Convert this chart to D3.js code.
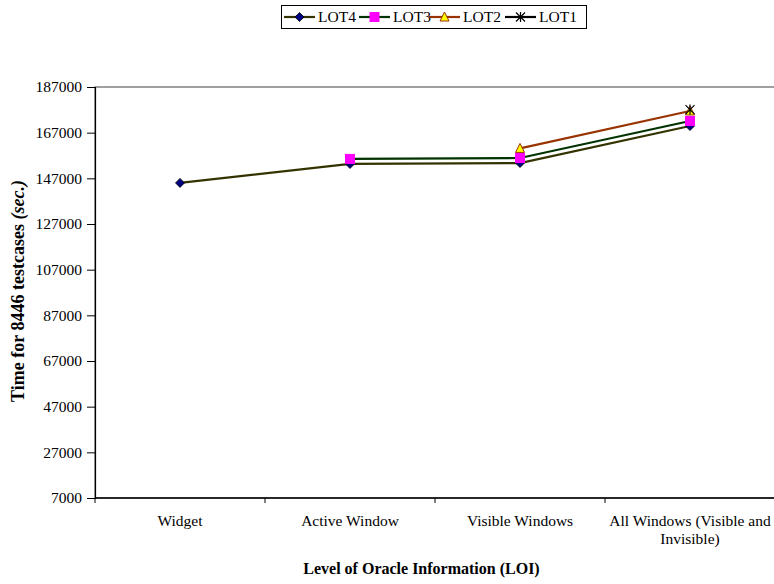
<!DOCTYPE html>
<html>
<head>
<meta charset="utf-8">
<script src="https://cdn.jsdelivr.net/npm/d3@7"></script>
<style>
  html, body { margin: 0; padding: 0; background: #fff; }
  svg text { font-family: 'Liberation Serif'; }
</style>
</head>
<body>
<div id="chart"></div>
<script>
// ---- Data ----
const categories = ["Widget", "Active Window", "Visible Windows", "All Windows (Visible and Invisible)"];
const lot4 = [145000, 153300, 153700, 169900];
const lot3 = [null, 155500, 155900, 172100];
const lot2 = [null, null, 160100, 176500];
const lot1 = [null, null, null, 177100];
const seriesNames = ["LOT4", "LOT3", "LOT2", "LOT1"];
const yTicks = [7000, 27000, 47000, 67000, 87000, 107000, 127000, 147000, 167000, 187000];
const xTitle = "Level of Oracle Information (LOI)";
const yTitleMain = "Time for 8446 testcases ";
const yTitleItalic = "(sec.)";

const seriesValues = [lot4, lot3, lot2, lot1];
const styles = [
  { line: "#333300", marker: "diamond", fill: "#000080", stroke: "#000000" },
  { line: "#003300", marker: "square", fill: "#FF00FF", stroke: "#FF00FF" },
  { line: "#993300", marker: "triangle", fill: "#FFFF00", stroke: "#993300" },
  { line: "#000000", marker: "star", fill: "none", stroke: "#000000" }
];
const FONT = "Liberation Serif";

const W = 774, H = 584;
const plot = { left: 95, right: 776, top: 87, bottom: 498 };

const svg = d3.select("#chart").append("svg").attr("width", W).attr("height", H);

const x = d3.scaleBand().domain(categories).range([plot.left, plot.right - 1]).padding(0);
const y = d3.scaleLinear().domain([7000, 187000]).range([plot.bottom, plot.top]);

// plot area border (gray)
svg.append("rect")
  .attr("x", plot.left).attr("y", plot.top)
  .attr("width", plot.right - plot.left).attr("height", plot.bottom - plot.top)
  .attr("fill", "none").attr("stroke", "#808080").attr("stroke-width", 1.5);

// Y axis
const yAxis = d3.axisLeft(y).tickValues(yTicks).tickSize(8).tickPadding(5).tickFormat(d3.format("d"));
const gy = svg.append("g").attr("transform", `translate(${plot.left},0)`).call(yAxis)
  .attr("font-family", FONT);
gy.select(".domain").attr("stroke", "#000").attr("stroke-width", 1.2);
gy.selectAll(".tick line").attr("stroke", "#000");
gy.selectAll(".tick text").attr("font-size", 15.5).attr("fill", "#000").attr("font-family", FONT);

// X axis with ticks at category boundaries
const gx = svg.append("g").attr("transform", `translate(0,${plot.bottom})`);
gx.append("line").attr("x1", plot.left).attr("x2", plot.right).attr("y1", 0).attr("y2", 0)
  .attr("stroke", "#000").attr("stroke-width", 1.5);
const boundaries = categories.map(c => x(c));
gx.selectAll("line.tk").data(boundaries).join("line").attr("class", "tk")
  .attr("x1", d => d).attr("x2", d => d).attr("y1", 0).attr("y2", 5)
  .attr("stroke", "#000");

// category labels (wrapped)
const wrapped = [["Widget"], ["Active Window"], ["Visible Windows"], ["All Windows (Visible and", "Invisible)"]];
categories.forEach((c, i) => {
  const cx = x(c) + x.bandwidth() / 2;
  const t = svg.append("text")
    .attr("x", cx).attr("y", 526)
    .attr("text-anchor", "middle")
    .attr("font-family", FONT)
    .attr("font-size", 15.5)
    .attr("fill", "#000");
  wrapped[i].forEach((ln, j) => {
    t.append("tspan").attr("x", cx).attr("dy", j === 0 ? 0 : 18).text(ln);
  });
});

// axis titles
svg.append("text")
  .attr("x", (plot.left + plot.right) / 2 - 14)
  .attr("y", 574)
  .attr("text-anchor", "middle")
  .attr("font-family", FONT)
  .attr("font-size", 16)
  .attr("font-weight", "bold")
  .text(xTitle);

const yt = svg.append("text")
  .attr("transform", `translate(24,291) rotate(-90)`)
  .attr("text-anchor", "middle")
  .attr("font-family", FONT)
  .attr("font-size", 18)
  .attr("font-weight", "bold");
yt.append("tspan").text(yTitleMain);
yt.append("tspan").attr("font-style", "italic").text(yTitleItalic);

// markers
function drawMarker(g, type, cx, cy, st) {
  if (type === "diamond") {
    g.append("path").attr("d", `M${cx},${cy - 4.5}L${cx + 4.5},${cy}L${cx},${cy + 4.5}L${cx - 4.5},${cy}Z`)
      .attr("fill", st.fill).attr("stroke", st.stroke).attr("stroke-width", 0.8);
  } else if (type === "square") {
    g.append("rect").attr("x", cx - 4.5).attr("y", cy - 4.5).attr("width", 9).attr("height", 9)
      .attr("fill", st.fill).attr("stroke", st.stroke);
  } else if (type === "triangle") {
    g.append("path").attr("d", `M${cx},${cy - 5}L${cx + 4.5},${cy + 4}L${cx - 4.5},${cy + 4}Z`)
      .attr("fill", st.fill).attr("stroke", st.stroke).attr("stroke-width", 1);
  } else if (type === "star") {
    const r = 4.5;
    g.append("path").attr("d",
      `M${cx - r},${cy - r}L${cx + r},${cy + r}M${cx - r},${cy + r}L${cx + r},${cy - r}M${cx},${cy - r - 0.5}L${cx},${cy + r + 0.5}`)
      .attr("stroke", st.stroke).attr("stroke-width", 1.2).attr("fill", "none");
  }
}

// lines
const line = d3.line().defined(d => d.v != null).x(d => x(d.c) + x.bandwidth() / 2).y(d => y(d.v));
const linesG = svg.append("g");
const marksG = svg.append("g");
seriesValues.forEach((vals, si) => {
  const pts = vals.map((v, i) => ({ c: categories[i], v }));
  linesG.append("path").datum(pts).attr("d", line)
    .attr("fill", "none").attr("stroke", styles[si].line).attr("stroke-width", 2.2);
});
seriesValues.forEach((vals, si) => {
  vals.forEach((v, i) => {
    if (v == null) return;
    drawMarker(marksG, styles[si].marker, x(categories[i]) + x.bandwidth() / 2, y(v), styles[si]);
  });
});

// legend
const lg = svg.append("g");
lg.append("rect").attr("x", 281.5).attr("y", 5.5).attr("width", 305).attr("height", 23)
  .attr("fill", "#fff").attr("stroke", "#000").attr("stroke-width", 1);
const legendX = [284, 359, 429, 505];
seriesNames.forEach((n, i) => {
  const lx = legendX[i];
  lg.append("line").attr("x1", lx).attr("x2", lx + 31).attr("y1", 17).attr("y2", 17)
    .attr("stroke", styles[i].line).attr("stroke-width", 2.2);
  drawMarker(lg, styles[i].marker, lx + 15.5, 17, styles[i]);
  lg.append("text").attr("x", lx + 34).attr("y", 22).attr("font-family", FONT).attr("font-size", 15.5).text(n);
});
</script>
</body>
</html>
